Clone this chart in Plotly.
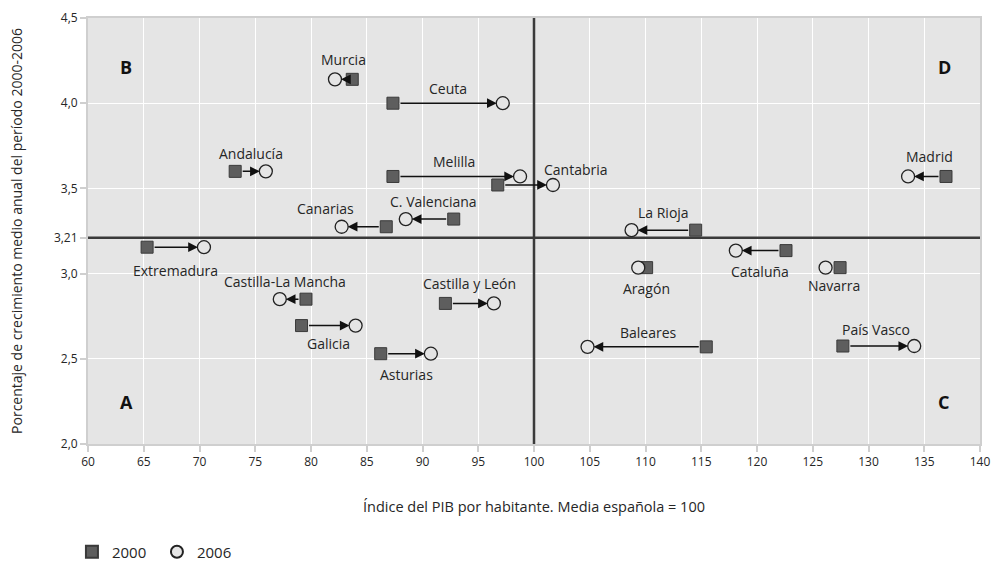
import plotly.graph_objects as go

# ---------------- data ----------------
regions = ["Murcia", "Ceuta", "Andalucía", "Melilla", "Cantabria", "C. Valenciana",
           "Canarias", "La Rioja", "Madrid", "Extremadura", "Cataluña", "Aragón",
           "Navarra", "Castilla-La Mancha", "Castilla y León", "Galicia", "Asturias",
           "Baleares", "País Vasco"]
pib_2000 = [83.7, 87.35, 73.2, 87.35, 96.75, 92.8, 86.75, 114.5, 136.95, 65.3,
            122.6, 110.1, 127.45, 79.55, 92.05, 79.15, 86.25, 115.45, 127.7]
pib_2006 = [82.15, 97.2, 75.95, 98.75, 101.7, 88.5, 82.75, 108.75, 133.55, 70.4,
            118.1, 109.35, 126.15, 77.2, 96.4, 84.0, 90.75, 104.8, 134.1]
crecimiento = [4.14, 4.00, 3.60, 3.57, 3.52, 3.32, 3.275, 3.255, 3.57, 3.155,
               3.135, 3.035, 3.035, 2.85, 2.825, 2.695, 2.53, 2.57, 2.575]

x_ticks = [60, 65, 70, 75, 80, 85, 90, 95, 100, 105, 110, 115, 120, 125, 130, 135, 140]
y_ticks = [2.0, 2.5, 3.0, 3.21, 3.5, 4.0, 4.5]
y_ticklabels = ["2,0", "2,5", "3,0", "3,21", "3,5", "4,0", "4,5"]
x_range = [60, 140]
y_range = [2.0, 4.5]
media_pib = 100
media_crec = 3.21
quadrants = ["A", "B", "C", "D"]

# ---------------- label placement (pixel offsets: dx, dy) ----------------
label_offsets = {
    "Murcia": (0, 20), "Ceuta": (0, 15), "Andalucía": (0, 18), "Melilla": (-3, 15),
    "Cantabria": (51, 15), "C. Valenciana": (4, 18), "Canarias": (-38, 18),
    "La Rioja": (0, 18), "Madrid": (2, 20), "Extremadura": (0, -23),
    "Cataluña": (-1, -21), "Aragón": (4, -21), "Navarra": (1, -18),
    "Castilla-La Mancha": (-8, 18), "Castilla y León": (0, 20), "Galicia": (0, -18),
    "Asturias": (1, -21), "Baleares": (2, 14), "País Vasco": (-3, 17),
}

FONT = "Open Sans"
TXT = "#262626"
LINE = "#3a3a3a"

fig = go.Figure()

# reference lines (as traces so they sit above the grid and below the markers)
fig.add_trace(go.Scatter(x=[media_pib, media_pib], y=y_range, mode="lines",
                         line=dict(color=LINE, width=2.5), showlegend=False,
                         hoverinfo="skip"))
fig.add_trace(go.Scatter(x=x_range, y=[media_crec, media_crec], mode="lines",
                         line=dict(color=LINE, width=2.5), showlegend=False,
                         hoverinfo="skip"))

fig.add_trace(go.Scatter(
    x=pib_2000, y=crecimiento, mode="markers", name="2000",
    marker=dict(symbol="square", size=12, color="#5e5e5e",
                line=dict(color="#3a3a3a", width=1)),
    hoverinfo="skip"))
fig.add_trace(go.Scatter(
    x=pib_2006, y=crecimiento, mode="markers", name="2006",
    marker=dict(symbol="circle", size=13, color="#e5e5e5",
                line=dict(color="#222222", width=1.3)),
    hoverinfo="skip"))

# arrows from 2000 to 2006 and labels
for r, x0, x1, yv in zip(regions, pib_2000, pib_2006, crecimiento):
    fig.add_annotation(x=x1, y=yv, ax=x0, ay=yv, axref="x", ayref="y",
                       xref="x", yref="y", text="", showarrow=True,
                       arrowhead=2, arrowsize=1.3, arrowwidth=1.5,
                       arrowcolor="#111111", standoff=6, startstandoff=6)
    dx, dy = label_offsets[r]
    fig.add_annotation(x=(x0 + x1) / 2, y=yv, xref="x", yref="y", text=r,
                       showarrow=False, xshift=dx, yshift=dy,
                       font=dict(family=FONT, size=14, color=TXT))

# quadrant letters
q_pos = {"A": (0.034, 0.066), "B": (0.034, 0.918), "C": (0.968, 0.066), "D": (0.97, 0.918)}
for q in quadrants:
    px, py = q_pos[q]
    fig.add_annotation(x=px, y=py, xref="paper", yref="paper", text="<b>%s</b>" % q,
                       showarrow=False,
                       font=dict(family=FONT, size=18, color="#111111", weight=800))

fig.update_layout(
    width=993, height=564,
    margin=dict(l=88, r=13, t=18, b=120, autoexpand=False),
    paper_bgcolor="white", plot_bgcolor="#e5e5e5",
    font=dict(family=FONT, size=12, color=TXT),
    showlegend=True,
    legend=dict(orientation="h", x=-0.018, y=-0.2535, xanchor="left", yanchor="middle",
                itemsizing="constant", entrywidth=40, entrywidthmode="pixels",
                font=dict(family=FONT, size=15, color=TXT), bgcolor="rgba(0,0,0,0)"),
)
fig.update_xaxes(
    range=x_range, tickvals=x_ticks, ticktext=[str(v) for v in x_ticks],
    showgrid=True, gridcolor="white", gridwidth=1.3, zeroline=False,
    showline=True, linecolor="#cfcfcf", linewidth=2, mirror=True,
    ticks="outside", ticklen=6, tickcolor="#cfcfcf", tickwidth=1.5,
    tickfont=dict(family=FONT, size=12, color=TXT), automargin=False,
    title=dict(text="Índice del PIB por habitante. Media española = 100",
               font=dict(family=FONT, size=14.5, color=TXT), standoff=32),
)
fig.update_yaxes(
    range=y_range, tickvals=y_ticks, ticktext=y_ticklabels,
    showgrid=True, gridcolor="white", gridwidth=1.3, zeroline=False,
    showline=True, linecolor="#cfcfcf", linewidth=2, mirror=True,
    ticks="outside", ticklen=6, tickcolor="#cfcfcf", tickwidth=1.5,
    tickfont=dict(family=FONT, size=12, color=TXT), automargin=False,
    title=dict(text="Porcentaje de crecimiento medio anual del período 2000-2006",
               font=dict(family=FONT, size=14, color=TXT), standoff=28),
)

# remove the browser's default 8px body margin so the figure fills the window
fig.write_html("out.html", config={"displayModeBar": False},
               post_script="document.body.style.margin='0';document.body.style.overflow='hidden';")
